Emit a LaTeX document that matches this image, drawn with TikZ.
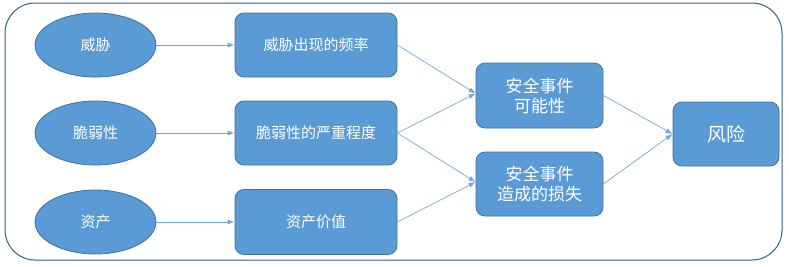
\documentclass[tikz,border=0pt]{standalone}
\usepackage{fontspec}
\newfontfamily\cjk{Noto Sans CJK SC}
\usetikzlibrary{shapes.geometric,arrows.meta}
\definecolor{boxfill}{HTML}{5B9BD5}
\definecolor{boxedge}{HTML}{41719C}
\definecolor{outeredge}{HTML}{2F5F8F}
\definecolor{arrowc}{HTML}{6FA8DC}
\begin{document}
\begin{tikzpicture}[x=1pt,y=-1pt,
  base/.style={fill=boxfill,draw=boxedge,line width=0.8pt,text=white,font=\cjk\fontsize{15}{19}\selectfont,align=center,inner sep=0pt},
  oval/.style={base,ellipse,minimum width=121pt,minimum height=64pt},
  rbox/.style={base,rectangle,rounded corners=9pt},
  bigtxt/.style={font=\cjk\fontsize{17}{20}\selectfont},
  conn/.style={draw=arrowc,line width=0.7pt,-{Latex[length=7pt,width=5pt]}}]
\useasboundingbox (0,0) rectangle (789,266);
\draw[outeredge,line width=1pt,rounded corners=30pt] (5,3) rectangle (782,260);
\node[oval] (t) at (95.5,45) {威胁};
\node[oval] (v) at (95.5,133) {脆弱性};
\node[oval] (a) at (95.5,222) {资产};
\node[rbox,minimum width=162pt,minimum height=64pt] (tf) at (316,45) {威胁出现的频率};
\node[rbox,minimum width=162pt,minimum height=64pt] (vs) at (316,133) {脆弱性的严重程度};
\node[rbox,minimum width=162pt,minimum height=65pt] (av) at (316,222) {资产价值};
\node[rbox,bigtxt,minimum width=127pt,minimum height=65pt] (p) at (539.5,95.5) {安全事件\\可能性};
\node[rbox,bigtxt,minimum width=127pt,minimum height=64pt] (l) at (539.5,184) {安全事件\\造成的损失};
\node[rbox,minimum width=106pt,minimum height=64pt,font=\cjk\fontsize{19}{22}\selectfont] (r) at (726,134) {风险};
\draw[conn] (t) -- (tf);
\draw[conn] (v) -- (vs);
\draw[conn] (a) -- (av);
\draw[conn] (tf.east) -- ([yshift=2pt]p.west);
\draw[conn] (vs.east) -- ([yshift=2pt]p.west);
\draw[conn] (vs.east) -- ([yshift=2pt]l.west);
\draw[conn] (av.east) -- ([yshift=2pt]l.west);
\draw[conn] (p.east) -- (r.west);
\draw[conn] (l.east) -- (r.west);
\end{tikzpicture}
\end{document}
